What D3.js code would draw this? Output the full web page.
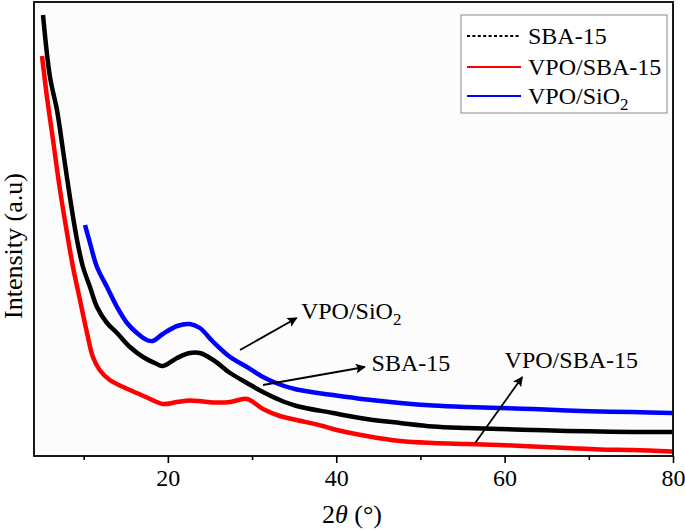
<!DOCTYPE html>
<html>
<head>
<meta charset="utf-8">
<script src="https://cdn.jsdelivr.net/npm/d3@7/dist/d3.min.js"></script>
<style>
  html, body { margin: 0; padding: 0; background: #fff; }
  svg { display: block; }
  text { font-family: "Liberation Serif", "Times New Roman", serif; fill: #000; }
</style>
</head>
<body>
<svg id="chart" width="685" height="531"></svg>
<script>
// ---- Data (2θ in degrees, intensity in arbitrary units) ----
const sbaTheta = [5.17, 6.0, 6.83, 7.54, 8.38, 9.21, 9.92, 10.75, 11.58, 12.77, 13.96, 15.5, 17.05, 18.7, 19.4, 21.1, 22.6, 23.8, 25.4, 27.4, 29.4, 31.3, 33.3, 35.3, 39.6, 43.6, 47.6, 51.5, 55.5, 59.4, 63.4, 67.4, 71.3, 75.2, 79.9];
const sbaInt   = [4410, 3790, 3460, 3060, 2580, 2160, 1890, 1690, 1490, 1330, 1230, 1090, 990, 920, 900, 980, 1030, 1030, 960, 830, 730, 640, 560, 500, 430, 370, 330, 295, 280, 270, 260, 250, 245, 240, 240];

const vpoSbaTheta = [5.05, 5.64, 6.36, 7.19, 8.02, 8.73, 9.56, 10.4, 11.1, 11.9, 13.1, 14.7, 16.3, 17.9, 19.4, 21.1, 22.6, 24.2, 25.8, 27.4, 29.4, 31.3, 33.3, 35.3, 38.4, 39.6, 43.6, 47.6, 51.5, 55.5, 59.4, 63.4, 67.4, 71.3, 75.2, 79.9];
const vpoSbaInt   = [4000, 3590, 3160, 2660, 2230, 1890, 1560, 1230, 990, 860, 760, 690, 630, 570, 520, 540, 555, 545, 535, 540, 570, 470, 400, 360, 300, 270, 200, 150, 130, 120, 110, 95, 80, 65, 60, 45];

const vpoSiTheta = [10.16, 10.75, 11.58, 12.77, 13.96, 15.15, 16.33, 17.5, 18.2, 19.4, 21.1, 22.6, 23.8, 25.4, 27.4, 29.4, 31.3, 33.3, 35.3, 39.6, 43.6, 47.6, 51.5, 55.5, 59.4, 63.4, 67.4, 71.3, 75.2, 79.9];
const vpoSiInt   = [2310, 2130, 1890, 1690, 1490, 1330, 1230, 1160, 1150, 1220, 1300, 1320, 1280, 1140, 990, 890, 790, 715, 665, 610, 565, 530, 505, 490, 480, 470, 455, 445, 440, 430];

const seriesNames  = ["SBA-15", "VPO/SBA-15", "VPO/SiO2"];
const seriesColors = ["#000000", "#ff0000", "#0000ff"];

const xMajorTicks = [20, 40, 60, 80];
const xMinorTicks = [10, 30, 50, 70];

// annotations: label, arrow from (θ, I), arrow to (θ, I), label anchor (θ, I)
const annLabels = ["VPO/SiO2", "SBA-15", "VPO/SBA-15"];
const annFrom   = [[28.57, 1060], [31.3, 710], [56.5, 130]];
const annTo     = [[35.3, 1380], [43.4, 890], [62.1, 790]];
const annText   = [[35.8, 1370], [44.2, 850], [60.0, 880]];

// ---- Layout ----
const svg = d3.select("#chart");
const L = 34, R = 673, T = 2, B = 456;

const x = d3.scaleLinear().domain([4.1, 80]).range([L, R]);
const y = d3.scaleLinear().domain([0, 4540]).range([B, T]);

svg.append("rect").attr("x", L).attr("y", T).attr("width", R - L).attr("height", B - T)
  .attr("fill", "#fcfcfc");

svg.append("clipPath").attr("id", "clip")
  .append("rect").attr("x", L).attr("y", T).attr("width", R - L).attr("height", B - T);

const line = d3.line().x(d => x(d[0])).y(d => y(d[1])).curve(d3.curveCatmullRom.alpha(0.5));
const sets = [
  d3.zip(sbaTheta, sbaInt),
  d3.zip(vpoSbaTheta, vpoSbaInt),
  d3.zip(vpoSiTheta, vpoSiInt)
];
const g = svg.append("g").attr("clip-path", "url(#clip)");
[1, 0, 2].forEach(i => {
  g.append("path").datum(sets[i])
    .attr("d", line)
    .attr("fill", "none")
    .attr("stroke", seriesColors[i])
    .attr("stroke-width", 4.5)
    .attr("stroke-linejoin", "round");
});

// ---- Axes ----
const xAxis = d3.axisBottom(x).tickValues(xMajorTicks).tickSize(7).tickPadding(6).tickFormat(d3.format("d"));
const xa = svg.append("g").attr("transform", `translate(0,${B})`).call(xAxis);
xa.select(".domain").remove();
xa.selectAll(".tick line").attr("stroke", "#000").attr("stroke-width", 1.6);
xa.selectAll(".tick text").style("font-size", "24px");

const xMinor = d3.axisBottom(x).tickValues(xMinorTicks).tickSize(4).tickFormat("");
const xm = svg.append("g").attr("transform", `translate(0,${B})`).call(xMinor);
xm.select(".domain").remove();
xm.selectAll(".tick line").attr("stroke", "#000").attr("stroke-width", 1.6);

svg.append("rect").attr("x", L).attr("y", T).attr("width", R - L).attr("height", B - T)
  .attr("fill", "none").attr("stroke", "#000").attr("stroke-width", 1.8);

const xt = svg.append("text").attr("x", 352).attr("y", 523).attr("text-anchor", "middle")
  .style("font-size", "26px");
xt.append("tspan").text("2");
xt.append("tspan").style("font-style", "italic").text("θ");
xt.append("tspan").text(" (°)");

svg.append("text").attr("transform", "translate(22,246) rotate(-90)")
  .attr("text-anchor", "middle").style("font-size", "26px")
  .text("Intensity (a.u)");

// ---- Legend ----
const lg = svg.append("g");
lg.append("rect").attr("x", 461).attr("y", 15).attr("width", 206).attr("height", 98)
  .attr("fill", "#fff").attr("stroke", "#888").attr("stroke-width", 1);
const legY = [36, 67, 96];
function writeLabel(t, n) {
  if (n === "VPO/SiO2") {
    t.append("tspan").text("VPO/SiO");
    t.append("tspan").attr("dy", 6).style("font-size", "17px").text("2");
  } else {
    t.text(n);
  }
}
seriesNames.forEach((n, i) => {
  lg.append("line").attr("x1", 467).attr("x2", 521).attr("y1", legY[i]).attr("y2", legY[i])
    .attr("stroke", seriesColors[i]).attr("stroke-width", i === 0 ? 1.8 : 2)
    .attr("stroke-dasharray", i === 0 ? "3,2.4" : null);
  writeLabel(lg.append("text").attr("x", 528).attr("y", legY[i] + 8).style("font-size", "24px"), n);
});

// ---- Annotations ----
svg.append("defs").append("marker").attr("id", "arrow").attr("viewBox", "0 0 10 10")
  .attr("refX", 9).attr("refY", 5).attr("markerWidth", 15).attr("markerHeight", 10)
  .attr("markerUnits", "userSpaceOnUse").attr("orient", "auto")
  .append("path").attr("d", "M0,0 L10,5 L0,10 L2,5 Z").attr("fill", "#000");

annLabels.forEach((n, i) => {
  svg.append("line")
    .attr("x1", x(annFrom[i][0])).attr("y1", y(annFrom[i][1]))
    .attr("x2", x(annTo[i][0])).attr("y2", y(annTo[i][1]))
    .attr("stroke", "#000").attr("stroke-width", 1.8)
    .attr("marker-end", "url(#arrow)");
  writeLabel(svg.append("text").attr("x", x(annText[i][0])).attr("y", y(annText[i][1]))
    .style("font-size", "24px"), n);
});
</script>
</body>
</html>
